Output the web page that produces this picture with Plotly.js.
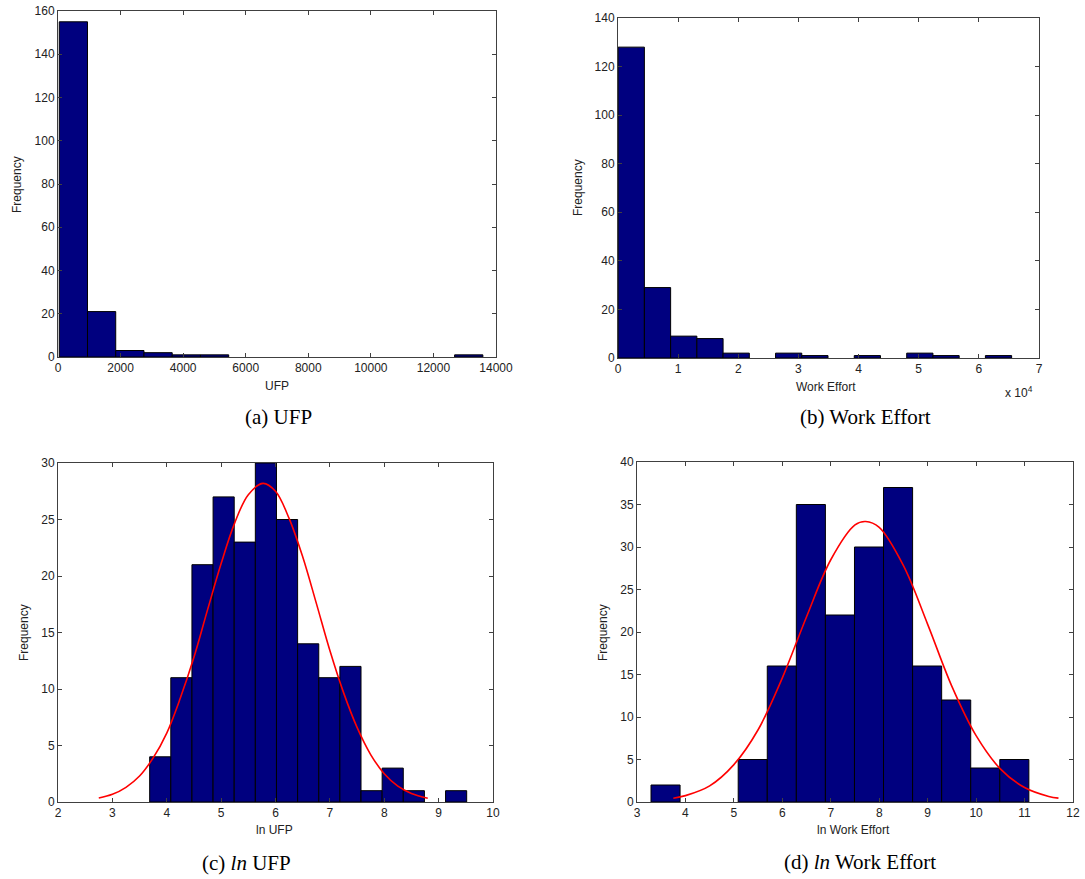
<!DOCTYPE html>
<html>
<head>
<meta charset="utf-8">
<script src="https://cdn.plot.ly/plotly-3.0.1.min.js"></script>
<style>html,body{margin:0;padding:0;background:#fff}#chart{width:1085px;height:879px}</style>
</head>
<body>
<div id="chart"></div>
<script>
// ---- data ----
// (a) UFP histogram: 15 equal bins from min to max
var ufpRange = [40, 13580];
var ufpCounts = [155, 21, 3, 2, 1, 1, 0, 0, 0, 0, 0, 0, 0, 0, 1];

// (b) Work Effort histogram: 15 equal bins
var effRange = [27, 65450];
var effCounts = [128, 29, 9, 8, 2, 0, 2, 1, 0, 1, 0, 2, 1, 0, 1];

// (c) ln UFP histogram: 15 equal bins
var lnUfpRange = [3.686, 9.516];
var lnUfpCounts = [4, 11, 21, 27, 23, 30, 25, 14, 11, 12, 1, 3, 1, 0, 1];
// fitted normal curve
var lnUfpCurveX = [2.75, 3.0, 3.25, 3.5, 3.75, 4.0, 4.25, 4.5, 4.75, 5.0, 5.25, 5.5, 5.77, 6.0, 6.25, 6.5, 6.75, 7.0, 7.25, 7.5, 7.75, 8.0, 8.25, 8.5, 8.8];
var lnUfpCurveY = [0.35, 0.68, 1.3, 2.3, 3.9, 6.1, 9.2, 12.8, 17.0, 21.1, 24.7, 27.2, 28.2, 27.5, 25.1, 21.7, 17.6, 13.4, 9.7, 6.6, 4.2, 2.5, 1.4, 0.75, 0.33];

// (d) ln Work Effort histogram: 13 equal bins
var lnEffRange = [3.289, 11.089];
var lnEffCounts = [2, 0, 0, 5, 16, 35, 22, 30, 37, 16, 12, 4, 5];
var lnEffCurveX = [3.75, 4.0, 4.5, 5.0, 5.5, 6.0, 6.5, 7.0, 7.5, 7.72, 8.0, 8.5, 9.0, 9.5, 10.0, 10.5, 11.0, 11.5, 11.7];
var lnEffCurveY = [0.45, 0.75, 1.9, 4.4, 8.5, 14.6, 21.8, 28.5, 32.6, 33.0, 32.3, 27.8, 20.9, 13.6, 7.8, 3.9, 1.7, 0.65, 0.45];

// ---- helpers ----
function binCenters(range, n) {
  var w = (range[1] - range[0]) / n, c = [];
  for (var i = 0; i < n; i++) c.push(range[0] + (i + 0.5) * w);
  return {c: c, w: w};
}
var BAR = '#00007f';
function histTrace(range, counts, xa, ya) {
  var b = binCenters(range, counts.length);
  var ys = counts.map(function (v) { return v === 0 ? null : v; });
  return {type: 'bar', x: b.c, y: ys, width: b.w, xaxis: xa, yaxis: ya,
    marker: {color: BAR, line: {color: '#000', width: 1}}, hoverinfo: 'x+y', showlegend: false};
}
function curveTrace(xs, ys, xa, ya) {
  return {type: 'scatter', mode: 'lines', x: xs, y: ys, xaxis: xa, yaxis: ya,
    line: {color: '#ff0000', width: 1.6, shape: 'spline'}, showlegend: false};
}

var traces = [
  histTrace(ufpRange, ufpCounts, 'x', 'y'),
  histTrace(effRange, effCounts, 'x2', 'y2'),
  histTrace(lnUfpRange, lnUfpCounts, 'x3', 'y3'),
  curveTrace(lnUfpCurveX, lnUfpCurveY, 'x3', 'y3'),
  histTrace(lnEffRange, lnEffCounts, 'x4', 'y4'),
  curveTrace(lnEffCurveX, lnEffCurveY, 'x4', 'y4')
];

var W = 1085, H = 879;
function px(x) { return x / W; }
function py(y) { return 1 - y / H; }

var tickFont = {family: 'Liberation Sans, Arial, sans-serif', size: 12, color: '#222'};
function ax(domain, range, dtick, extra) {
  var a = {domain: domain, range: range, dtick: dtick, tick0: 0, ticks: 'inside', ticklen: 4,
    tickcolor: '#404040', showline: true, linecolor: '#404040', linewidth: 1, mirror: 'ticks',
    showgrid: false, zeroline: false, tickfont: tickFont, fixedrange: true};
  for (var k in extra) a[k] = extra[k];
  return a;
}

var layout = {
  width: W, height: H, margin: {l: 0, r: 0, t: 0, b: 0},
  paper_bgcolor: '#fff', plot_bgcolor: '#fff', bargap: 0, showlegend: false,
  xaxis:  ax([px(58), px(496)], [0, 14000], 2000, {anchor: 'y', tickformat: 'd'}),
  yaxis:  ax([py(357), py(11)], [0, 160], 20, {anchor: 'x'}),
  xaxis2: ax([px(618), px(1039)], [0, 70000], 10000, {anchor: 'y2', tickvals: [0,10000,20000,30000,40000,50000,60000,70000], ticktext: ['0','1','2','3','4','5','6','7']}),
  yaxis2: ax([py(358), py(18)], [0, 140], 20, {anchor: 'x2'}),
  xaxis3: ax([px(58), px(493)], [2, 10], 1, {anchor: 'y3'}),
  yaxis3: ax([py(802), py(463)], [0, 30], 5, {anchor: 'x3'}),
  xaxis4: ax([px(637), px(1073)], [3, 12], 1, {anchor: 'y4'}),
  yaxis4: ax([py(802), py(462)], [0, 40], 5, {anchor: 'x4'}),
  annotations: []
};

var labFont = {family: 'Liberation Sans, Arial, sans-serif', size: 12, color: '#222'};
var capFont = {family: 'Liberation Serif, Times New Roman, serif', size: 21, color: '#000'};
function ann(text, x, y, font, angle) {
  layout.annotations.push({text: text, x: px(x), y: py(y), xref: 'paper', yref: 'paper',
    xanchor: 'center', yanchor: 'middle', showarrow: false, font: font, textangle: angle || 0});
}
ann('Frequency', 17, 185, labFont, -90);
ann('UFP', 277, 386, labFont);
ann('Frequency', 578, 188, labFont, -90);
ann('Work Effort', 826, 387, labFont);
ann('x 10<sup>4</sup>', 1019, 392, labFont);
ann('Frequency', 24, 633, labFont, -90);
ann('ln UFP', 274, 830, labFont);
ann('Frequency', 603, 633, labFont, -90);
ann('ln Work Effort', 853, 830, labFont);

ann('(a) UFP', 278, 417, capFont);
ann('(b) Work Effort', 865, 417, capFont);
ann('(c) <i>ln</i> UFP', 246, 863, capFont);
ann('(d) <i>ln</i> Work Effort', 860, 862, capFont);

Plotly.newPlot('chart', traces, layout, {displayModeBar: false, staticPlot: true});
</script>
</body>
</html>
